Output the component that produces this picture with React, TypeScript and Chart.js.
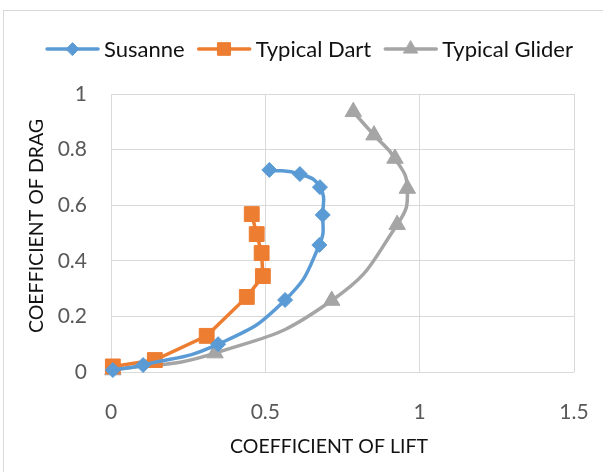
import React, { useEffect, useRef } from 'react';
import { Chart, registerables } from 'chart.js';
import { drawPoint } from 'chart.js/helpers';

Chart.register(...registerables);

const seriesNames = ['Susanne', 'Typical Dart', 'Typical Glider'];
const seriesColors = ['#5B9BD5', '#ED7D31', '#A5A5A5'];
const seriesMarkers = ['rectRot', 'rect', 'triangle'];
const seriesRadius = [7.5, 10.5, 9.5];
const seriesTension = [0.5, 0, 0.5];

const susanneLift = [0.006, 0.104, 0.347, 0.564, 0.675, 0.686, 0.677, 0.612, 0.513];
const susanneDrag = [0.007, 0.025, 0.1, 0.259, 0.457, 0.565, 0.665, 0.712, 0.727];
const dartLift = [0.006, 0.142, 0.31, 0.44, 0.492, 0.488, 0.472, 0.456];
const dartDrag = [0.02, 0.043, 0.13, 0.27, 0.345, 0.428, 0.496, 0.568];
const gliderLift = [0.006, 0.337, 0.715, 0.927, 0.96, 0.92, 0.852, 0.785];
const gliderDrag = [0.007, 0.068, 0.257, 0.53, 0.66, 0.768, 0.852, 0.936];

const xTicks = [0, 0.5, 1, 1.5];
const yTicks = [0, 0.2, 0.4, 0.6, 0.8, 1];
const xTitle = 'COEFFICIENT OF LIFT';
const yTitle = 'COEFFICIENT OF DRAG';

const FONT = 'Lato';
const TICK_SIZE = 21;
const LEGEND_SIZE = 22;
const TITLE_SIZE = 19.5;

function toPoints(xs: number[], ys: number[]) {
  return xs.map((x, i) => ({ x, y: ys[i] }));
}

const overlayPlugin = {
  id: 'overlay',
  beforeDraw(chart: any) {
    const ctx = chart.ctx;
    ctx.save();
    ctx.fillStyle = '#ffffff';
    ctx.fillRect(0, 0, chart.width, chart.height);
    ctx.strokeStyle = '#d9d9d9';
    ctx.lineWidth = 1;
    ctx.strokeRect(3.5, 10.5, chart.width + 20, chart.height + 20);
    ctx.restore();
  },
  afterDraw(chart: any) {
    const ctx = chart.ctx;
    ctx.save();
    ctx.font = `${LEGEND_SIZE}px ${FONT}`;
    ctx.textBaseline = 'middle';
    // legend
    const lineLen = 55;
    const gapText = 4;
    const gapItem = 12;
    const widths = seriesNames.map((n) => ctx.measureText(n).width);
    const total = widths.reduce((a, b) => a + b, 0) + seriesNames.length * (lineLen + gapText) + gapItem * (seriesNames.length - 1);
    let x = 309 - total / 2;
    const y = 49;
    seriesNames.forEach((name, i) => {
      ctx.strokeStyle = seriesColors[i];
      ctx.fillStyle = seriesColors[i];
      ctx.lineWidth = 3.5;
      ctx.lineCap = 'round';
      ctx.beginPath();
      ctx.moveTo(x + 2, y);
      ctx.lineTo(x + lineLen - 2, y);
      ctx.stroke();
      ctx.lineWidth = 1;
      drawPoint(ctx, { pointStyle: seriesMarkers[i], radius: seriesRadius[i] * 0.85, rotation: 0, borderWidth: 1 } as any, x + lineLen / 2, y);
      ctx.fillStyle = '#111111';
      ctx.textAlign = 'left';
      ctx.fillText(name, x + lineLen + gapText, y + 1);
      x += lineLen + gapText + widths[i] + gapItem;
    });
    // axis titles
    ctx.font = `${TITLE_SIZE}px ${FONT}`;
    ctx.fillStyle = '#111111';
    ctx.textAlign = 'center';
    ctx.fillText(xTitle, 329, 447);
    ctx.translate(36.5, 226);
    ctx.rotate(-Math.PI / 2);
    ctx.fillText(yTitle, 0, 0);
    ctx.restore();
  },
};

export default function App() {
  const ref = useRef<HTMLCanvasElement>(null);
  useEffect(() => {
    if (!ref.current) return;
    const datasets = [
      toPoints(susanneLift, susanneDrag),
      toPoints(dartLift, dartDrag),
      toPoints(gliderLift, gliderDrag),
    ].map((data, i) => ({
      label: seriesNames[i],
      data,
      showLine: true,
      borderColor: seriesColors[i],
      backgroundColor: seriesColors[i],
      borderWidth: 3.5,
      tension: seriesTension[i],
      pointStyle: seriesMarkers[i],
      pointRadius: seriesRadius[i],
      pointBorderWidth: 1,
      pointBorderColor: seriesColors[i],
      pointBackgroundColor: seriesColors[i],
      clip: false as any,
    }));
    const chart = new Chart(ref.current, {
      type: 'scatter',
      data: { datasets },
      plugins: [overlayPlugin],
      options: {
        animation: false,
        responsive: false,
        layout: { padding: { top: 94, right: 29, left: 0, bottom: 0 } },
        plugins: { legend: { display: false }, tooltip: { enabled: false } },
        scales: {
          x: {
            type: 'linear',
            min: 0,
            max: 1.5,
            afterFit: (s: any) => {
              s.height = 100;
              s.paddingLeft = 0;
              s.paddingRight = 18;
            },
            afterBuildTicks: (s: any) => {
              s.ticks = xTicks.map((v) => ({ value: v }));
            },
            ticks: {
              padding: 28,
              color: '#595959',
              font: { family: FONT, size: TICK_SIZE },
              callback: (v: any) => String(v),
              maxRotation: 0,
            },
            grid: { color: '#d9d9d9', lineWidth: 1, drawTicks: false },
            border: { display: false },
          },
          y: {
            type: 'linear',
            min: 0,
            max: 1,
            afterFit: (s: any) => {
              s.width = 111;
            },
            afterBuildTicks: (s: any) => {
              s.ticks = yTicks.map((v) => ({ value: v }));
            },
            ticks: {
              padding: 24,
              color: '#595959',
              font: { family: FONT, size: TICK_SIZE },
              callback: (v: any) => String(v),
            },
            grid: { color: '#d9d9d9', lineWidth: 1, drawTicks: false },
            border: { display: false },
          },
        },
      },
    });
    return () => chart.destroy();
  }, []);
  return (
    <div style={{ position: 'fixed', left: 0, top: 0, width: 603, height: 472, overflow: 'hidden', background: '#fff' }}>
      <canvas ref={ref} width={603} height={472} style={{ display: 'block' }} />
    </div>
  );
}
